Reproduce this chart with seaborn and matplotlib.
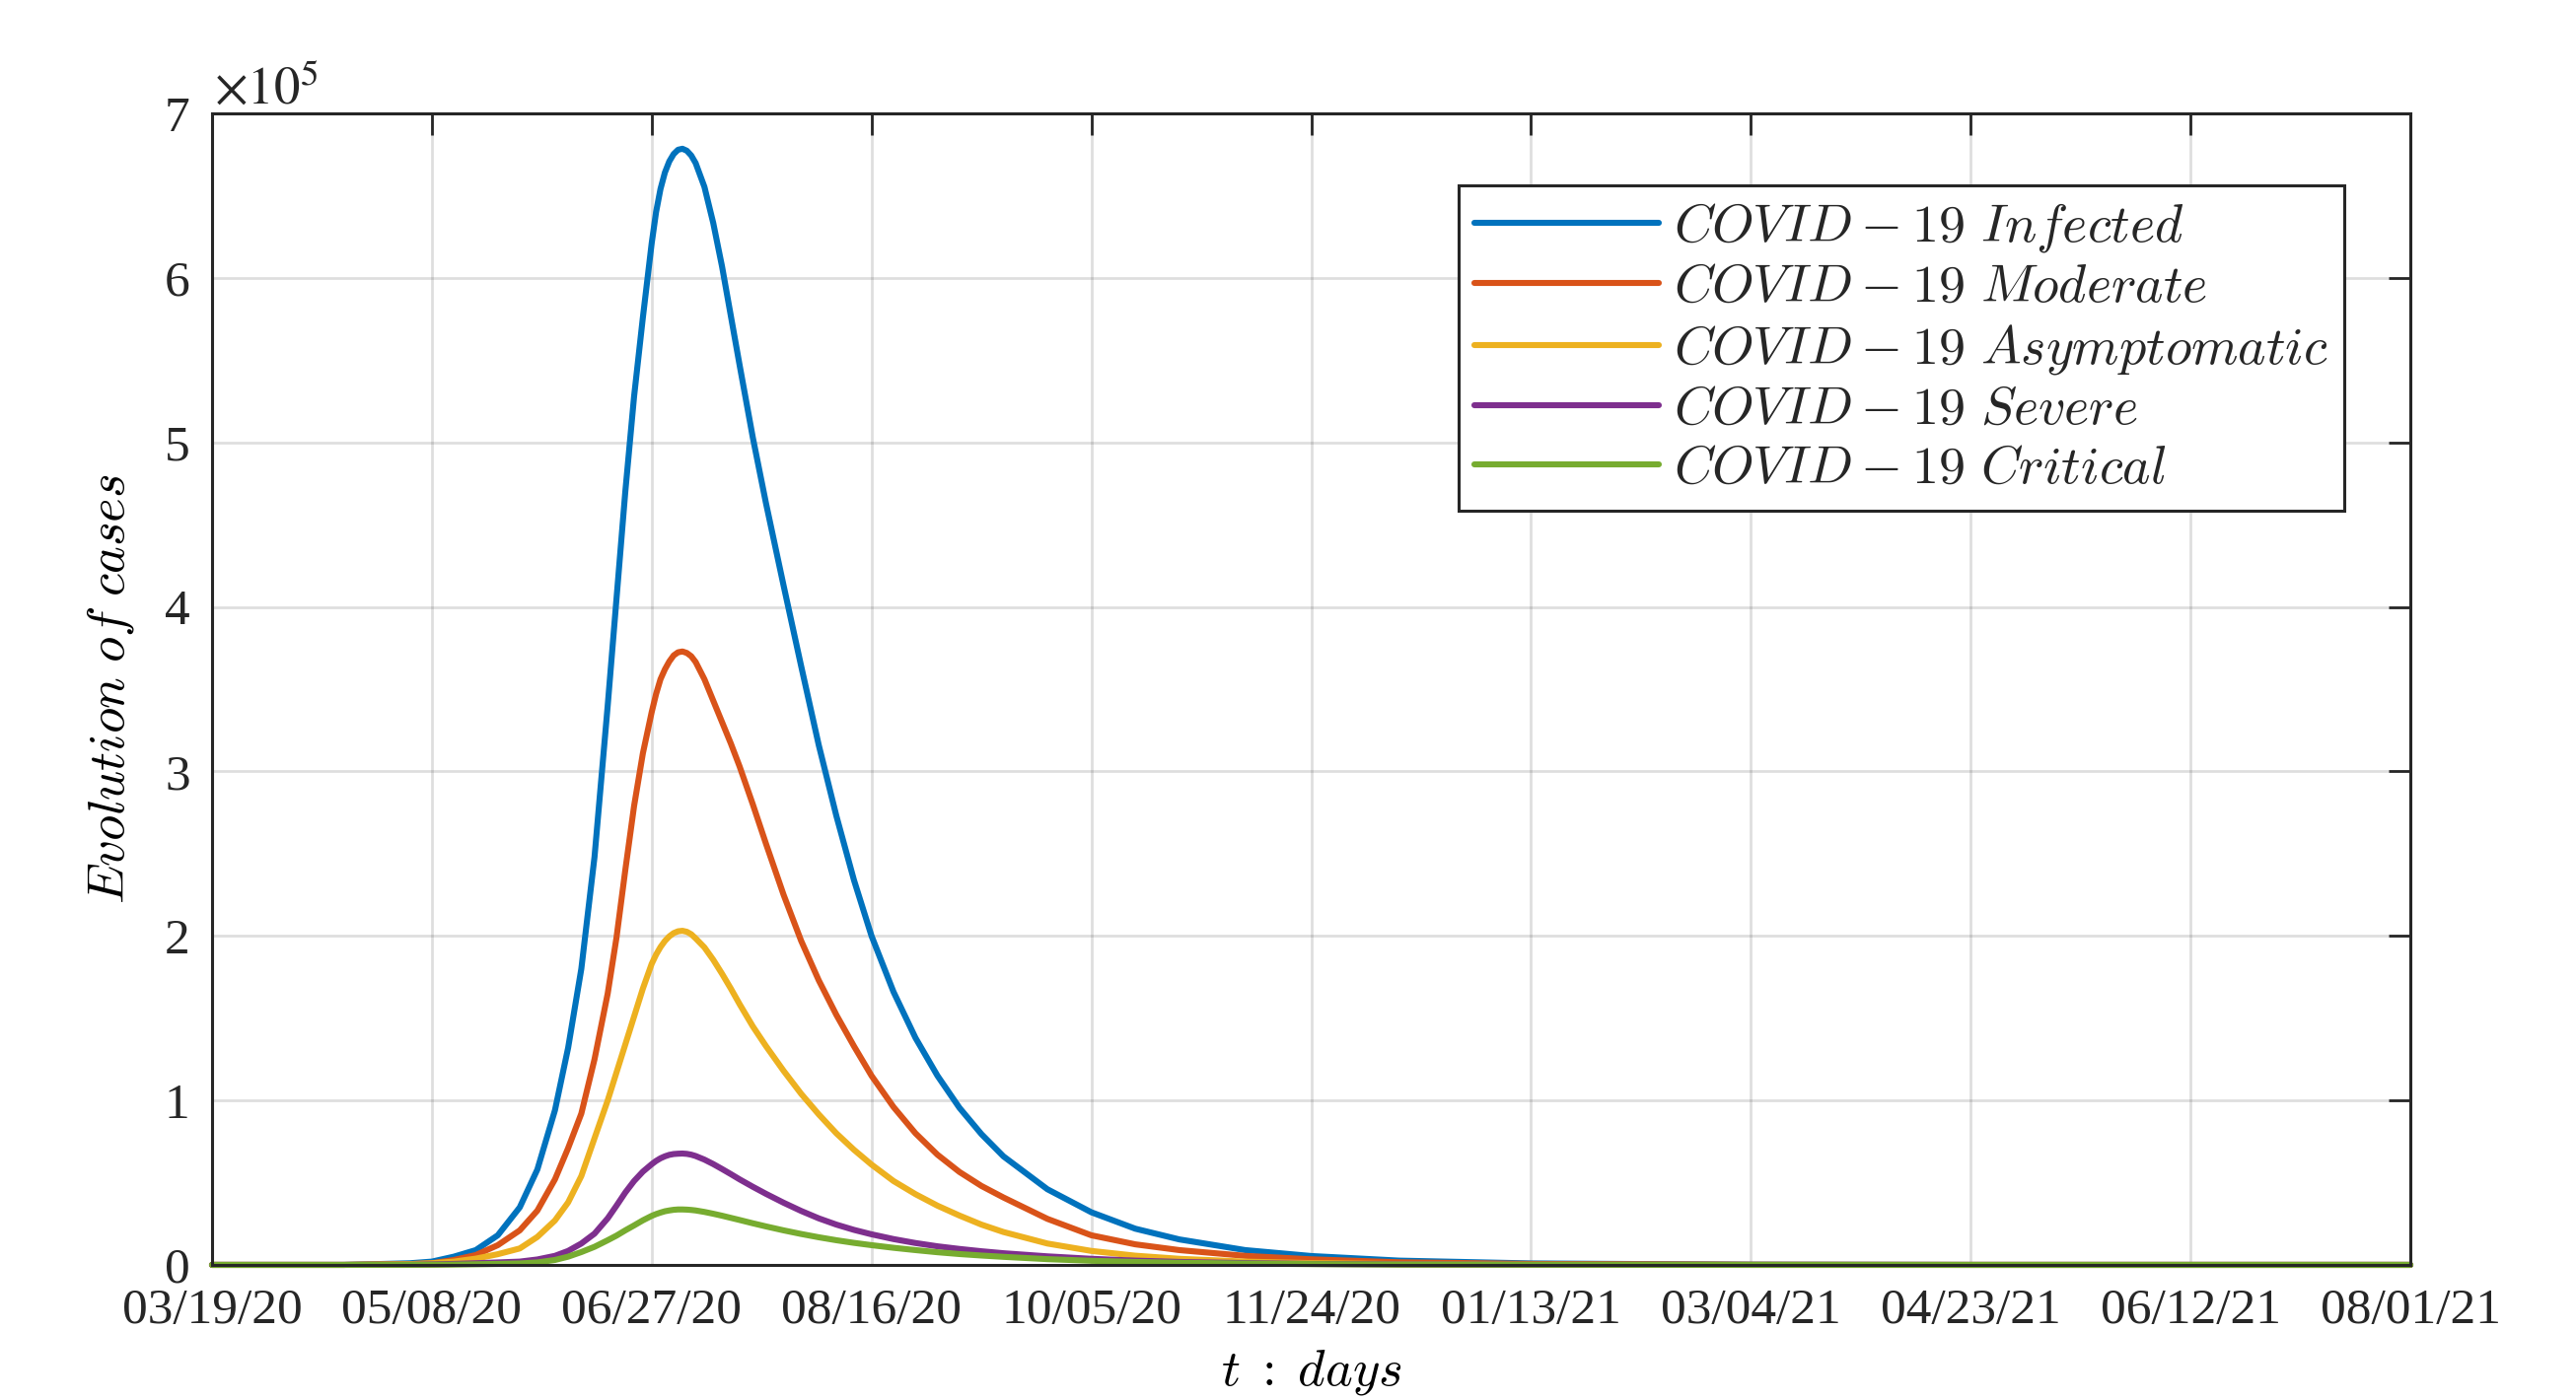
import numpy as np
import pandas as pd
import matplotlib
matplotlib.use("Agg")
import matplotlib.pyplot as plt
import matplotlib.dates as mdates
import seaborn as sns

# days since 03/19/20, values in units of 1e5 cases
days = [0, 30, 45, 50, 55, 60, 65, 70, 74, 78, 81, 84, 87, 90, 92, 94, 96, 98,
        100, 101, 102, 103, 104, 105, 106, 107, 108, 109, 110, 112, 114, 116,
        118, 120, 123, 126, 130, 134, 138, 142, 146, 150, 155, 160, 165, 170,
        175, 180, 190, 200, 210, 220, 235, 250, 270, 300, 350, 400, 450, 500]

infected = [0, 0, 0.01, 0.02, 0.05, 0.09, 0.18, 0.35, 0.58, 0.94, 1.32, 1.80,
            2.48, 3.40, 4.05, 4.70, 5.28, 5.76, 6.21, 6.40, 6.54, 6.64, 6.708,
            6.753, 6.779, 6.785, 6.773, 6.744, 6.698, 6.553, 6.334, 6.07, 5.77,
            5.47, 5.03, 4.63, 4.13, 3.64, 3.16, 2.73, 2.34, 2.00, 1.66, 1.38,
            1.15, 0.955, 0.795, 0.66, 0.46, 0.32, 0.22, 0.155, 0.09, 0.054,
            0.026, 0.009, 0.0015, 0, 0, 0]
moderate = [0, 0, 0.005, 0.01, 0.03, 0.06, 0.12, 0.21, 0.33, 0.52, 0.71, 0.92,
            1.25, 1.65, 1.99, 2.40, 2.79, 3.11, 3.36, 3.47, 3.56, 3.62, 3.668,
            3.705, 3.724, 3.729, 3.72, 3.70, 3.665, 3.56, 3.43, 3.30, 3.17,
            3.03, 2.80, 2.56, 2.25, 1.97, 1.73, 1.52, 1.33, 1.15, 0.96, 0.80,
            0.67, 0.565, 0.48, 0.41, 0.28, 0.18, 0.125, 0.09, 0.055, 0.034,
            0.016, 0.006, 0.001, 0, 0, 0]
asymptomatic = [0, 0, 0.005, 0.01, 0.02, 0.038, 0.065, 0.10, 0.17, 0.27, 0.38,
                0.54, 0.77, 1.0, 1.17, 1.34, 1.51, 1.68, 1.83, 1.886, 1.932,
                1.969, 1.997, 2.017, 2.028, 2.031, 2.025, 2.01, 1.985, 1.93,
                1.855, 1.77, 1.68, 1.585, 1.45, 1.33, 1.18, 1.04, 0.915, 0.80,
                0.70, 0.61, 0.51, 0.43, 0.36, 0.30, 0.245, 0.20, 0.13, 0.085,
                0.056, 0.037, 0.02, 0.011, 0.005, 0.001, 0, 0, 0, 0]
severe = [0, 0, 0.001, 0.003, 0.006, 0.01, 0.015, 0.02, 0.033, 0.055, 0.085,
          0.13, 0.19, 0.283, 0.36, 0.44, 0.51, 0.567, 0.612, 0.632, 0.648,
          0.66, 0.669, 0.674, 0.676, 0.677, 0.675, 0.670, 0.662, 0.640, 0.613,
          0.583, 0.552, 0.52, 0.475, 0.432, 0.378, 0.328, 0.283, 0.245, 0.213,
          0.186, 0.157, 0.133, 0.113, 0.097, 0.083, 0.071, 0.052, 0.037,
          0.026, 0.018, 0.011, 0.006, 0.003, 0.001, 0, 0, 0, 0]
critical = [0, 0, 0.0005, 0.001, 0.002, 0.004, 0.006, 0.009, 0.015, 0.03, 0.05,
            0.078, 0.11, 0.15, 0.178, 0.21, 0.24, 0.271, 0.298, 0.309, 0.318,
            0.326, 0.331, 0.335, 0.337, 0.337, 0.336, 0.334, 0.331, 0.322,
            0.311, 0.299, 0.286, 0.273, 0.253, 0.234, 0.21, 0.188, 0.168,
            0.15, 0.134, 0.12, 0.104, 0.09, 0.077, 0.066, 0.057, 0.049, 0.035,
            0.025, 0.018, 0.013, 0.008, 0.005, 0.002, 0.001, 0, 0, 0, 0]

labels = [r"$COVID-19\ Infected$", r"$COVID-19\ Moderate$",
          r"$COVID-19\ Asymptomatic$", r"$COVID-19\ Severe$",
          r"$COVID-19\ Critical$"]
colors = ["#0072BD", "#D95319", "#EDB120", "#7E2F8E", "#77AC30"]
lw = 4.4

start = pd.Timestamp("2020-03-19")
tick_dates = pd.date_range(start, periods=11, freq="50D")

# long form table for seaborn
frames = []
for lab, vals in zip(labels, [infected, moderate, asymptomatic, severe, critical]):
    frames.append(pd.DataFrame({
        "date": start + pd.to_timedelta(days, unit="D"),
        "cases": np.array(vals) * 1e5,
        "series": lab,
    }))
df = pd.concat(frames, ignore_index=True)

sns.set_style("white")
plt.rcParams["font.family"] = ["Liberation Serif", "DejaVu Serif"]
plt.rcParams["mathtext.fontset"] = "cm"
axcol = "#262626"

fig = plt.figure(figsize=(26.12, 14.2), dpi=100)
ax = fig.add_axes([0.0823, 0.0965, 0.8534, 0.8225])

sns.lineplot(data=df, x="date", y="cases", hue="series", hue_order=labels,
             palette=colors, estimator=None, ax=ax)
for ln in ax.lines:
    ln.set_linewidth(lw)
    ln.set_clip_on(False)
    ln.set_solid_joinstyle("round")

ax.set_xlim(start, start + pd.Timedelta(days=500))
ax.set_ylim(0, 7e5)
ax.set_xticks(tick_dates)
ax.xaxis.set_major_formatter(mdates.DateFormatter("%m/%d/%y"))
ax.set_yticks(np.arange(0, 8) * 1e5)
ax.set_yticklabels([str(i) for i in range(8)])

ax.tick_params(direction="in", length=16, width=2, top=True, right=True,
               labelsize=37, color=axcol, labelcolor=axcol)
ax.tick_params(axis="x", pad=17)
ax.tick_params(axis="y", pad=16)
ax.grid(True, color=axcol, alpha=0.15, linewidth=2)
ax.set_axisbelow(True)
for s in ax.spines.values():
    s.set_visible(True)
    s.set_linewidth(2.2)
    s.set_color(axcol)

ax.set_xlabel(r"$t\;:\;days$", fontsize=38, labelpad=10, color="black")
ax.set_ylabel(r"$Evolution\ of\ cases$", fontsize=38, labelpad=21, color="black")
ax.text(0.001, 0.999, r"$\times10^{5}$", transform=ax.transAxes, fontsize=38,
        ha="left", va="bottom", math_fontfamily="stix", color=axcol)

handles, labs = ax.get_legend_handles_labels()
leg = ax.legend(handles, labs, loc="upper right", bbox_to_anchor=(0.970, 0.9375),
                borderaxespad=0, fontsize=39, handlelength=3.45, handletextpad=0.28,
                labelspacing=0.17, borderpad=0.3, frameon=True, fancybox=False,
                framealpha=1, edgecolor=axcol)
leg.get_frame().set_linewidth(2.2)
for h in leg.get_lines():
    h.set_linewidth(lw)

fig.savefig("out.png", dpi=100)
